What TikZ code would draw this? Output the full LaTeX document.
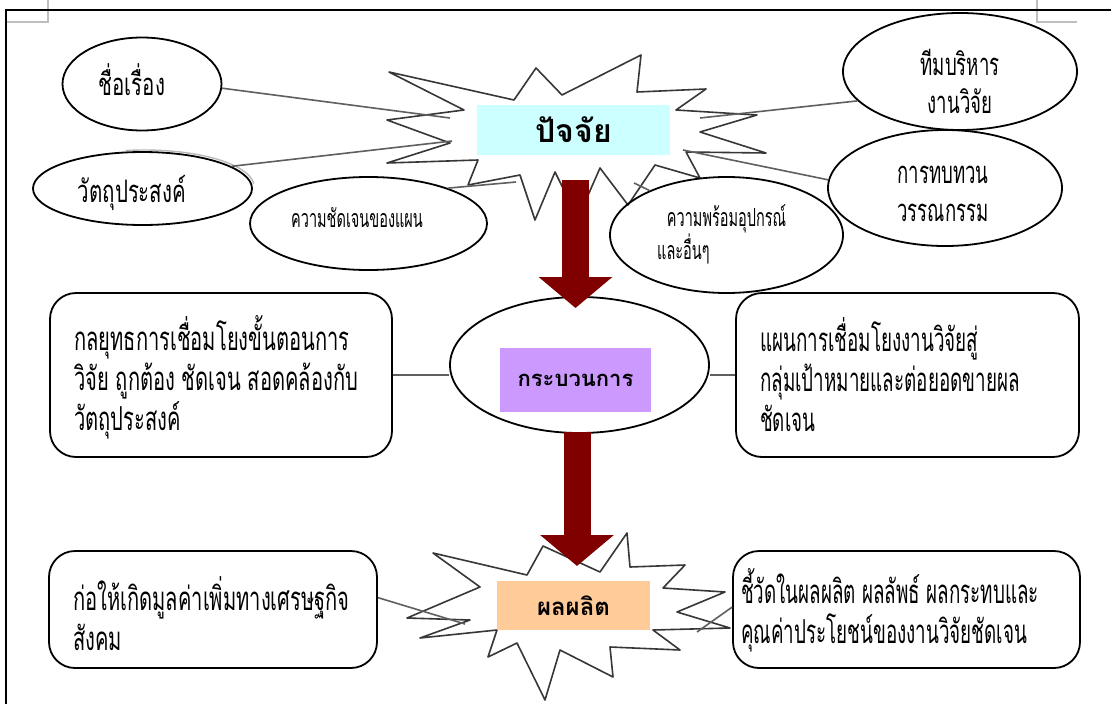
\documentclass[tikz,border=0pt]{standalone}
\usepackage{fontspec}
\newfontfamily\thai[Script=Thai,FakeStretch=0.61]{Loma}
\newfontfamily\thainarrow[Script=Thai,FakeStretch=0.57]{Loma}
\newfontfamily\thaimid[Script=Thai,FakeStretch=0.66]{Loma}
\newfontfamily\thaimidnarrow[Script=Thai,FakeStretch=0.6]{Loma}
\newfontfamily\thaismall[Script=Thai,FakeStretch=0.58]{Loma}
\newfontfamily\thaihead[Script=Thai]{Loma}
\usetikzlibrary{shapes.geometric,arrows.meta,calc}
\definecolor{cyanbox}{RGB}{204,255,255}
\definecolor{purplebox}{RGB}{204,153,255}
\definecolor{orangebox}{RGB}{255,204,153}
\definecolor{arrowred}{RGB}{128,0,0}
\definecolor{burstline}{RGB}{55,55,55}
\definecolor{linkgray}{RGB}{95,95,95}
\definecolor{markgray}{RGB}{190,190,190}
\tikzset{
  frame/.style={draw=black, line width=2.2pt},
  pagemark/.style={draw=markgray, line width=1.2pt},
  oval/.style={draw=black, line width=1.8pt, ellipse, inner sep=0pt},
  roundbox/.style={draw=black, line width=1.8pt, rounded corners=26pt, inner sep=0pt},
  burst/.style={draw=burstline, line width=1.6pt, fill=white, line join=round},
  link/.style={draw=linkgray, line width=1.6pt},
  bodytext/.style={font=\thai\fontsize{33}{40}\selectfont, inner sep=0pt, align=left},
  narrowtext/.style={font=\thainarrow\fontsize{33}{40}\selectfont, inner sep=0pt, align=left},
  smalltext/.style={font=\thaismall\fontsize{25}{32}\selectfont, inner sep=0pt, align=left},
  midtext/.style={font=\thaimid\fontsize{31}{38}\selectfont, inner sep=0pt, align=center},
  midnarrow/.style={font=\thaimidnarrow\fontsize{31}{38}\selectfont, inner sep=0pt, align=center},
  tagbox/.style={inner sep=0pt},
  bigarrow/.style={draw=arrowred, line width=27pt, -{Triangle[length=31pt,width=72pt]}},
  shadowarc/.style={draw=gray!55, line width=1.4pt},
}
\begin{document}
\begin{tikzpicture}[x=1pt,y=-1pt]
\useasboundingbox (0,0) rectangle (1111,704);
\fill[white] (0,0) rectangle (1111,704);
% page frame and corner marks
\draw[pagemark] (6,22) -- (48,22) -- (48,0);
\draw[pagemark] (1037,0) -- (1037,22) -- (1077,22);
\draw[frame] (6,704) -- (6,10) -- (1111,10);

% top starburst
\draw[burst] (389,72) -- (514,100) -- (536,68) -- (562,95) -- (641,55) -- (637,92)
  -- (706,89) -- (676,110) -- (757,115) -- (700,132) -- (766,153) -- (686,152)
  -- (700,178) -- (655,165) -- (628,205) -- (600,168) -- (578,218) -- (555,172)
  -- (535,220) -- (520,175) -- (468,185) -- (478,160) -- (387,163) -- (450,143)
  -- (387,120) -- (464,110) -- cycle;

% bottom starburst
\draw[burst] (433,553) -- (480,587) -- (407,618) -- (470,620) -- (420,638)
  -- (497,630) -- (488,657) -- (517,643) -- (545,700) -- (560,650) -- (613,677)
  -- (610,647) -- (680,650) -- (653,630) -- (730,628) -- (677,612) -- (725,592)
  -- (663,588) -- (685,565) -- (630,567) -- (627,533) -- (600,572) -- (543,546)
  -- (527,575) -- cycle;

% ellipses
\node[oval, minimum width=159, minimum height=93] (e1) at (142,84) {};
\node[oval, minimum width=219, minimum height=73] (e2) at (142.5,188.5) {};
\node[oval, minimum width=237, minimum height=93] (e3) at (368.5,223.5) {};
\node[oval, minimum width=234, minimum height=117] (e4) at (960,71.5) {};
\node[oval, minimum width=234, minimum height=116] (e5) at (945,188) {};
\node[oval, minimum width=233, minimum height=116] (e6) at (726.5,235) {};
\node[oval, minimum width=259, minimum height=136] (proc) at (579.5,365) {};
\draw[shadowarc] ($(e2.center)+(2,-2)$) ++(4:109.5pt and 36.5pt) arc[start angle=4, end angle=100, x radius=109.5pt, y radius=36.5pt];

% free ends of connectors inside the starbursts
\coordinate (c1) at (450,118);
\coordinate (c2) at (452,141);
\coordinate (c3) at (516,182);
\coordinate (c4) at (700,118);
\coordinate (c5) at (683,150);
\coordinate (c6) at (634,183);
\coordinate (c7) at (465,624);
\coordinate (c8) at (697,632);

% rounded boxes
\node[roundbox, minimum width=342, minimum height=164] (lbox) at (221,375) {};
\node[roundbox, minimum width=343, minimum height=164] (rbox) at (907.5,375) {};
\node[roundbox, minimum width=328, minimum height=117] (blbox) at (213,609.5) {};
\node[roundbox, minimum width=347, minimum height=117] (brbox) at (906.5,609.5) {};

% connectors
\draw[link] (e1.-3) -- (c1);
\draw[link] (e2.14) -- (c2);
\draw[link] (e3.24) -- (c3);
\draw[link] (e4.196) -- (c4);
\draw[link] (e5.176) -- (c5);
\draw[link] (e6.150) -- (c6);
\draw[link] (lbox.east) -- (lbox.east -| proc.west);
\draw[link] (rbox.west) -- (rbox.west -| proc.east);
\draw[link] ($(blbox.north east)!0.4!(blbox.south east)$) -- (c7);
\draw[link] ($(brbox.north west)!0.48!(brbox.south west)$) -- (c8);

% coloured labels
\node[tagbox, fill=cyanbox, minimum width=193, minimum height=50,
  font=\thaihead\bfseries\fontsize{32}{36}\selectfont] (fbox) at (573.5,130) {ปัจจัย};
\node[tagbox, fill=purplebox, minimum width=151, minimum height=64,
  font=\thaihead\bfseries\fontsize{22}{26}\selectfont] (pbox) at (575.5,380) {กระบวนการ};
\node[tagbox, fill=orangebox, minimum width=153, minimum height=49,
  font=\thaihead\bfseries\fontsize{24}{28}\selectfont] (obox) at (573.5,605.5) {ผลผลิต};

% arrows
\coordinate (a1s) at (575.5,180);
\coordinate (a1e) at (575.5,308);
\coordinate (a2s) at (577,432);
\coordinate (a2e) at (577,566);
\draw[bigarrow] (a1s) -- (a1e);
\draw[bigarrow] (a2s) -- (a2e);

% texts in the ellipses
\node[midtext] (t1) at (132,80) {ชื่อเรื่อง};
\node[midtext] (t2) at (132,193) {วัตถุประสงค์};
\node[smalltext] (t3) at (357,218) {ความชัดเจนของแผน};
\node[midnarrow] (t4) at (960,81) {ทีมบริหาร\\งานวิจัย};
\node[midnarrow] (t5) at (943,194) {การทบทวน\\วรรณกรรม};
\node[smalltext, anchor=west] (t6) at (657,234) {\ \ ความพร้อมอุปกรณ์\\และอื่นๆ};

% texts in the boxes
\node[bodytext, anchor=west] (lt) at (74,377) {กลยุทธการเชื่อมโยงขั้นตอนการ\\วิจัย ถูกต้อง ชัดเจน สอดคล้องกับ\\วัตถุประสงค์};
\node[narrowtext, anchor=west] (rt) at (760,375) {แผนการเชื่อมโยงงานวิจัยสู่\\กลุ่มเป้าหมายและต่อยอดขายผล\\ชัดเจน};
\node[bodytext, anchor=west] (blt) at (73,614) {ก่อให้เกิดมูลค่าเพิ่มทางเศรษฐกิจ\\สังคม};
\node[narrowtext, anchor=west] (brt) at (741,610) {ชี้วัดในผลผลิต ผลลัพธ์ ผลกระทบและ\\คุณค่าประโยชน์ของงานวิจัยชัดเจน};
\end{tikzpicture}
\end{document}
